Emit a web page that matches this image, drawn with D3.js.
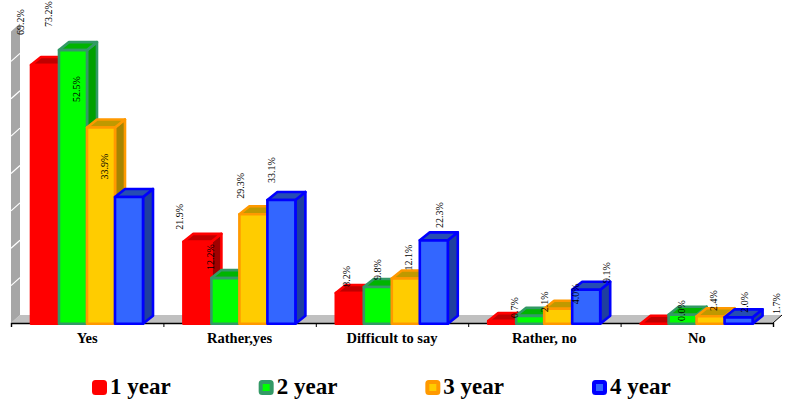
<!DOCTYPE html>
<html>
<head>
<meta charset="utf-8">
<style>
  body { margin: 0; background: #fff; }
  text { font-family: "Liberation Serif", "Times New Roman", serif; fill: #000; }
  .cat { font-size: 14.5px; font-weight: bold; }
  .val { font-size: 10px; }
  .leg { font-size: 23px; font-weight: bold; }
</style>
<script src="https://cdn.jsdelivr.net/npm/d3@7"></script>
</head>
<body>
<div id="chart"></div>
<script>
// Chart values
var categories = ["Yes", "Rather,yes", "Difficult to say", "Rather, no", "No"];
var years = ["1 year", "2 year", "3 year", "4 year"];
var year1 = [69.2, 21.9, 8.2, 0.7, 0.0];
var year2 = [73.2, 12.2, 9.8, 2.1, 2.4];
var year3 = [52.5, 29.3, 12.1, 4.0, 2.0];
var year4 = [33.9, 33.1, 22.3, 9.1, 1.7];
var allYears = [year1, year2, year3, year4];

// Face colours for each series
var colors = [
    { front: "#ff0000", stroke: "#ff0000", top: "#c00000", side: "#a00000" },
    { front: "#00ff00", stroke: "#339966", top: "#00b400", side: "#00a000" },
    { front: "#ffcc00", stroke: "#ff9900", top: "#bf9900", side: "#a68500" },
    { front: "#3366ff", stroke: "#0000ff", top: "#264db3", side: "#1f3f9f" }
];

var svgWidth = 788;
var svgHeight = 409;

// 3D depth of the floor, wall and bars
var depthX = 9;
var depthY = 8;
var barDepthX = 10;

var svg = d3.select("#chart")
    .append("svg")
    .attr("width", svgWidth)
    .attr("height", svgHeight)
    .style("display", "block");

// Scales
var xGroup = d3.scaleBand().domain(categories).range([11, 773]);
var xBar = d3.scaleBand().domain(years).range([20, 132]);
var y = d3.scaleLinear().domain([0, 80]).range([323, 24]);

// The value labels run on their own scales, wider than the bars
var labelX = d3.scaleLinear()
    .domain([45, 129, 198, 350, 502, 655, 739])
    .range([20, 104, 180, 347, 514, 682, 777]);
var labelY = d3.scaleLinear()
    .domain([0, 52.5, 69.2, 73.2])
    .range([321, 102, 35, 27]);

function poly(points) {
    return points.map(function (p) { return p.join(","); }).join(" ");
}

// Floor
var xLeft = xGroup.range()[0];
var xRight = xGroup.range()[1];
svg.append("polygon")
    .attr("points", poly([
        [xLeft, y(0)], [xLeft + depthX, y(0) - depthY],
        [xRight + depthX, y(0) - depthY], [xRight, y(0)]
    ]))
    .attr("fill", "#c0c0c0");

// Left wall, cut a little below the top of the scale
var wallTop = 78;
svg.append("polygon")
    .attr("points", poly([
        [xLeft, y(0)], [xLeft + depthX, y(0) - depthY],
        [xLeft + depthX, y(wallTop) - depthY], [xLeft, y(wallTop)]
    ]))
    .attr("fill", "#a6a6a6");

svg.selectAll("line.wall")
    .data(y.ticks(8).filter(function (d) { return d > 0 && d <= wallTop; }))
    .enter()
    .append("line")
    .attr("class", "wall")
    .attr("x1", xLeft)
    .attr("y1", function (d) { return y(d); })
    .attr("x2", xLeft + depthX)
    .attr("y2", function (d) { return y(d) - depthY; })
    .attr("stroke", "#fff")
    .attr("stroke-width", 1.2);

// Bottom axis, ticks sit on the category boundaries
var axisScale = d3.scaleLinear().domain([0, categories.length]).range([xLeft, xRight]);
var axisGroup = svg.append("g")
    .attr("transform", "translate(0," + y(0) + ")")
    .call(d3.axisBottom(axisScale).ticks(categories.length).tickSize(4).tickFormat(""));
axisGroup.select(".domain").attr("stroke", "#000").attr("stroke-width", 1.4);
axisGroup.selectAll("line").attr("stroke", "#000").attr("stroke-width", 1);

svg.append("line")
    .attr("x1", xRight)
    .attr("y1", y(0))
    .attr("x2", xRight + depthX)
    .attr("y2", y(0) - depthY)
    .attr("stroke", "#000");

// Bars: one series after the other, so later bars cover earlier side faces
allYears.forEach(function (values, s) {
    var c = colors[s];
    var w = xBar.bandwidth();
    var g = svg.append("g")
        .attr("transform", "translate(0,0.7)")
        .attr("stroke", c.stroke)
        .attr("stroke-width", 2.6)
        .attr("stroke-linejoin", "round");

    values.forEach(function (v, i) {
        var x0 = xGroup(categories[i]) + xBar(years[s]);
        var x1 = x0 + w;
        var yTop = y(v);
        var yBase = y(0);

        g.append("polygon")
            .attr("points", poly([[x1, yTop], [x1 + barDepthX, yTop - depthY], [x1 + barDepthX, yBase - depthY], [x1, yBase]]))
            .attr("fill", c.side);
        g.append("polygon")
            .attr("points", poly([[x0, yTop], [x0 + barDepthX, yTop - depthY], [x1 + barDepthX, yTop - depthY], [x1, yTop]]))
            .attr("fill", c.top);
        g.append("rect")
            .attr("x", x0)
            .attr("y", yTop)
            .attr("width", w)
            .attr("height", yBase - yTop)
            .attr("fill", c.front);
    });
});

// Value labels
allYears.forEach(function (values, s) {
    svg.selectAll("text.val" + s)
        .data(values)
        .enter()
        .append("text")
        .attr("class", "val val" + s)
        .attr("transform", function (d, i) {
            var cx = xGroup(categories[i]) + xBar(years[s]) + xBar.bandwidth() / 2;
            return "translate(" + labelX(cx) + "," + labelY(d) + ")rotate(-90)";
        })
        .attr("dy", "0.35em")
        .text(function (d) { return d.toFixed(1) + "%"; });
});

// Category labels
svg.selectAll("text.cat")
    .data(categories)
    .enter()
    .append("text")
    .attr("class", "cat")
    .attr("x", function (d) { return xGroup(d) + xGroup.bandwidth() / 2; })
    .attr("y", 343)
    .attr("text-anchor", "middle")
    .text(function (d) { return d; });

// Legend
var legendX = d3.scalePoint().domain(years).range([92, 592]);
var legend = svg.selectAll("g.legend")
    .data(years)
    .enter()
    .append("g")
    .attr("class", "legend")
    .attr("transform", function (d) { return "translate(" + legendX(d) + ",380)"; });

legend.append("rect")
    .attr("x", 2)
    .attr("y", 2)
    .attr("width", 11)
    .attr("height", 11)
    .attr("rx", 1.5)
    .attr("fill", function (d, i) { return colors[i].front; })
    .attr("stroke", function (d, i) { return colors[i].stroke; })
    .attr("stroke-width", 4);

legend.append("text")
    .attr("class", "leg")
    .attr("x", 18)
    .attr("y", 14)
    .text(function (d) { return d; });
</script>
</body>
</html>
